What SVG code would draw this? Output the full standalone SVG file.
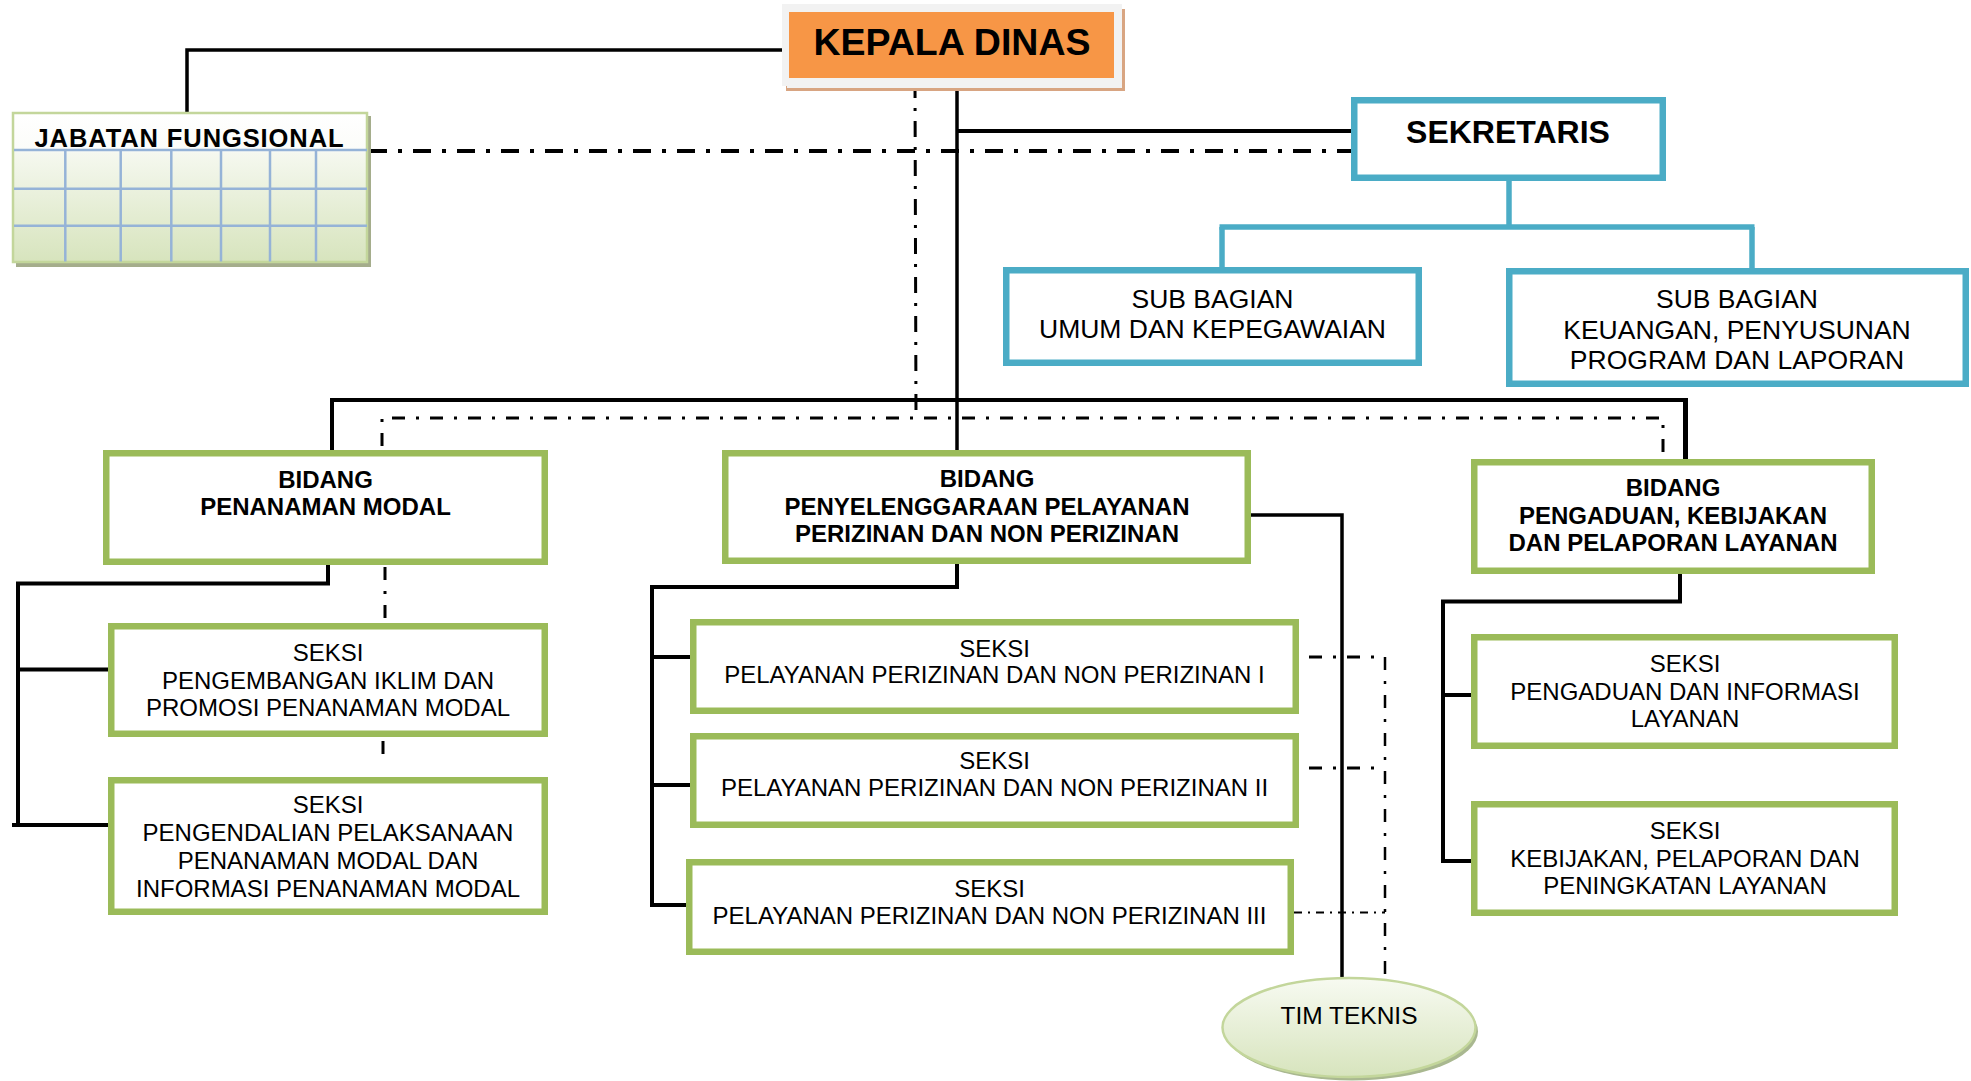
<svg xmlns="http://www.w3.org/2000/svg" width="1971" height="1081" viewBox="0 0 1971 1081">
<defs>
<linearGradient id="jfGrad" x1="0" y1="0" x2="0" y2="1">
<stop offset="0" stop-color="#ffffff"/>
<stop offset="0.25" stop-color="#fbfcf9"/>
<stop offset="0.27" stop-color="#f5f8ef"/>
<stop offset="1" stop-color="#d7e4bd"/>
</linearGradient>
<linearGradient id="ttGrad" x1="0" y1="0" x2="0" y2="1">
<stop offset="0" stop-color="#f7faf1"/>
<stop offset="1" stop-color="#d7e4bd"/>
</linearGradient>
<style>
.green{fill:#ffffff;stroke:#9bbb59;stroke-width:6.5}
.teal{fill:#ffffff;stroke:#4bacc6;stroke-width:6.5}
.t{font-family:"Liberation Sans",Arial,sans-serif;fill:#000;text-anchor:middle}
.b{font-weight:bold}
.s24{font-size:24px}
.s26{font-size:26.5px}
.ln{fill:none;stroke:#000;stroke-width:4;stroke-linejoin:miter;stroke-linecap:butt}
.ln35{fill:none;stroke:#000;stroke-width:3.5}
.tl{fill:none;stroke:#4bacc6;stroke-width:5.5}
.dd{fill:none;stroke:#000;stroke-width:3;stroke-dasharray:13 11 3 11}
.ddb{fill:none;stroke:#000;stroke-width:4;stroke-dasharray:18 11 4 11}
.ddt{fill:none;stroke:#000;stroke-width:1.8;stroke-dasharray:8 6 2 6}
.grid{stroke:#95b3d7;stroke-width:2.5}
</style>
</defs>
<rect width="1971" height="1081" fill="#ffffff"/>

<g id="connectors">
<polyline class="ln35" points="789,50 187,50 187,112"/>
<line class="ln35" x1="957" y1="78" x2="957" y2="450"/>
<line class="ln" x1="957" y1="131" x2="1351" y2="131"/>
<line class="ln" x1="330" y1="400" x2="1688" y2="400"/>
<line class="ln" x1="332" y1="398" x2="332" y2="450"/>
<line class="ln" x1="1685.5" y1="398" x2="1685.5" y2="459" style="stroke-width:5"/>
<polyline class="ln" points="328,565 328,583.5 18,583.5 18,825"/>
<line class="ln" x1="18" y1="669.5" x2="108" y2="669.5"/>
<line class="ln" x1="12" y1="825" x2="108" y2="825"/>
<polyline class="ln" points="957,564 957,587 652,587 652,905 686,905"/>
<line class="ln" x1="652" y1="657" x2="690" y2="657"/>
<line class="ln" x1="652" y1="785" x2="690" y2="785"/>
<polyline class="ln35" points="1251,515 1342,515 1342,978"/>
<polyline class="ln" points="1680,574 1680,601.5 1443,601.5 1443,861 1471,861"/>
<line class="ln" x1="1443" y1="695" x2="1471" y2="695"/>
<line class="tl" x1="1509" y1="181" x2="1509" y2="227"/>
<line class="tl" x1="1219.5" y1="227" x2="1754.5" y2="227"/>
<line class="tl" x1="1222" y1="227" x2="1222" y2="268"/>
<line class="tl" x1="1752" y1="227" x2="1752" y2="268"/>
<line class="ddb" x1="369" y1="151" x2="1351" y2="151"/>
<line class="dd" x1="915" y1="82" x2="916" y2="418" style="stroke-dasharray:16 10 3 10"/>
<polyline class="dd" points="382,446 382,418 1663,418 1663,459"/>
<line class="dd" x1="385" y1="567" x2="385" y2="621"/>
<line class="dd" x1="383" y1="741" x2="383" y2="763"/>
<line class="dd" x1="1309" y1="657" x2="1385" y2="657"/>
<line class="dd" x1="1309" y1="768" x2="1385" y2="768"/>
<line class="ddt" x1="1294" y1="912.5" x2="1385" y2="912.5"/>
<line class="dd" x1="1385" y1="657" x2="1385" y2="978" style="stroke-width:2.5"/>
</g>

<g id="kepala-dinas">
<rect x="786" y="9" width="339" height="82" fill="#d8a582"/>
<rect x="787" y="10" width="335" height="78" fill="#f2f2f2"/>
<rect x="782" y="4" width="340" height="82" fill="#f2f2f2"/>
<rect x="789" y="12" width="325" height="66" fill="#f79646"/>
<text class="t b" x="952" y="55" font-size="37.5">KEPALA DINAS</text>
</g>

<g id="jabatan-fungsional">
<rect x="16" y="116" width="355" height="151" fill="#a5ad8c"/>
<rect x="13" y="113" width="354" height="149" fill="url(#jfGrad)" stroke="#c3d69b" stroke-width="2.5"/>
<line class="grid" x1="14" y1="150" x2="367" y2="150"/>
<line class="grid" x1="14" y1="188.7" x2="367" y2="188.7"/>
<line class="grid" x1="14" y1="225.7" x2="367" y2="225.7"/>
<line class="grid" x1="65.3" y1="150" x2="65.3" y2="261.5"/>
<line class="grid" x1="120.7" y1="150" x2="120.7" y2="261.5"/>
<line class="grid" x1="171.3" y1="150" x2="171.3" y2="261.5"/>
<line class="grid" x1="221" y1="150" x2="221" y2="261.5"/>
<line class="grid" x1="270" y1="150" x2="270" y2="261.5"/>
<line class="grid" x1="316" y1="150" x2="316" y2="261.5"/>
<text class="t b" x="189.5" y="146.5" font-size="25.5" letter-spacing="0.9">JABATAN FUNGSIONAL</text>
</g>

<g id="sekretaris">
<rect class="teal" x="1354.25" y="100.25" width="308.5" height="77.5"/>
<text class="t b" x="1508" y="143" font-size="32">SEKRETARIS</text>
</g>

<g id="subbag-umum">
<rect class="teal" x="1006.25" y="270.25" width="412.5" height="92.5"/>
<text class="t s26" x="1212.5" y="308">SUB BAGIAN</text>
<text class="t s26" x="1212.5" y="338">UMUM DAN KEPEGAWAIAN</text>
</g>

<g id="subbag-keuangan">
<rect class="teal" x="1509.25" y="271.25" width="456.5" height="112.5"/>
<text class="t s26" x="1737" y="308">SUB BAGIAN</text>
<text class="t s26" x="1737" y="338.5">KEUANGAN, PENYUSUNAN</text>
<text class="t s26" x="1737" y="369">PROGRAM DAN LAPORAN</text>
</g>

<g id="bidang-pm">
<rect class="green" x="106.25" y="453.25" width="438.5" height="108.5"/>
<text class="t b s24" x="325.5" y="488">BIDANG</text>
<text class="t b s24" x="325.5" y="515">PENANAMAN MODAL</text>
</g>

<g id="bidang-pppn">
<rect class="green" x="725.25" y="453.25" width="522.5" height="107.5"/>
<text class="t b s24" x="987" y="487">BIDANG</text>
<text class="t b s24" x="987" y="514.5">PENYELENGGARAAN PELAYANAN</text>
<text class="t b s24" x="987" y="542">PERIZINAN DAN NON PERIZINAN</text>
</g>

<g id="bidang-pkpl">
<rect class="green" x="1474.25" y="462.25" width="397.5" height="108.5"/>
<text class="t b s24" x="1673" y="496">BIDANG</text>
<text class="t b s24" x="1673" y="524">PENGADUAN, KEBIJAKAN</text>
<text class="t b s24" x="1673" y="551">DAN PELAPORAN LAYANAN</text>
</g>

<g id="seksi-pengembangan">
<rect class="green" x="111.25" y="626.25" width="433.5" height="107.5"/>
<text class="t s24" x="328" y="661">SEKSI</text>
<text class="t s24" x="328" y="688.5">PENGEMBANGAN IKLIM DAN</text>
<text class="t s24" x="328" y="716">PROMOSI PENANAMAN MODAL</text>
</g>

<g id="seksi-pengendalian">
<rect class="green" x="111.25" y="780.25" width="433.5" height="131.5"/>
<text class="t s24" x="328" y="813">SEKSI</text>
<text class="t s24" x="328" y="841">PENGENDALIAN PELAKSANAAN</text>
<text class="t s24" x="328" y="869">PENANAMAN MODAL DAN</text>
<text class="t s24" x="328" y="897">INFORMASI PENANAMAN MODAL</text>
</g>

<g id="seksi-ppnp-1">
<rect class="green" x="693.25" y="622.25" width="602.5" height="88.5"/>
<text class="t s24" x="994.5" y="656.5">SEKSI</text>
<text class="t s24" x="994.5" y="683">PELAYANAN PERIZINAN DAN NON PERIZINAN I</text>
</g>

<g id="seksi-ppnp-2">
<rect class="green" x="693.25" y="736.25" width="602.5" height="88.5"/>
<text class="t s24" x="994.5" y="768.5">SEKSI</text>
<text class="t s24" x="994.5" y="796">PELAYANAN PERIZINAN DAN NON PERIZINAN II</text>
</g>

<g id="seksi-ppnp-3">
<rect class="green" x="689.25" y="862.25" width="601.5" height="89.5"/>
<text class="t s24" x="989.5" y="897">SEKSI</text>
<text class="t s24" x="989.5" y="924">PELAYANAN PERIZINAN DAN NON PERIZINAN III</text>
</g>

<g id="seksi-pengaduan">
<rect class="green" x="1474.25" y="637.25" width="420.5" height="108.5"/>
<text class="t s24" x="1685" y="672">SEKSI</text>
<text class="t s24" x="1685" y="700">PENGADUAN DAN INFORMASI</text>
<text class="t s24" x="1685" y="727">LAYANAN</text>
</g>

<g id="seksi-kebijakan">
<rect class="green" x="1474.25" y="804.25" width="420.5" height="108.5"/>
<text class="t s24" x="1685" y="839">SEKSI</text>
<text class="t s24" x="1685" y="866.5">KEBIJAKAN, PELAPORAN DAN</text>
<text class="t s24" x="1685" y="894">PENINGKATAN LAYANAN</text>
</g>

<g id="tim-teknis">
<ellipse cx="1352" cy="1031.5" rx="126" ry="49" fill="#a9b890"/>
<ellipse cx="1349" cy="1027.5" rx="126.5" ry="49.5" fill="url(#ttGrad)" stroke="#c3d69b" stroke-width="2.5"/>
<text class="t" x="1349" y="1024" font-size="24.5">TIM TEKNIS</text>
</g>
</svg>
